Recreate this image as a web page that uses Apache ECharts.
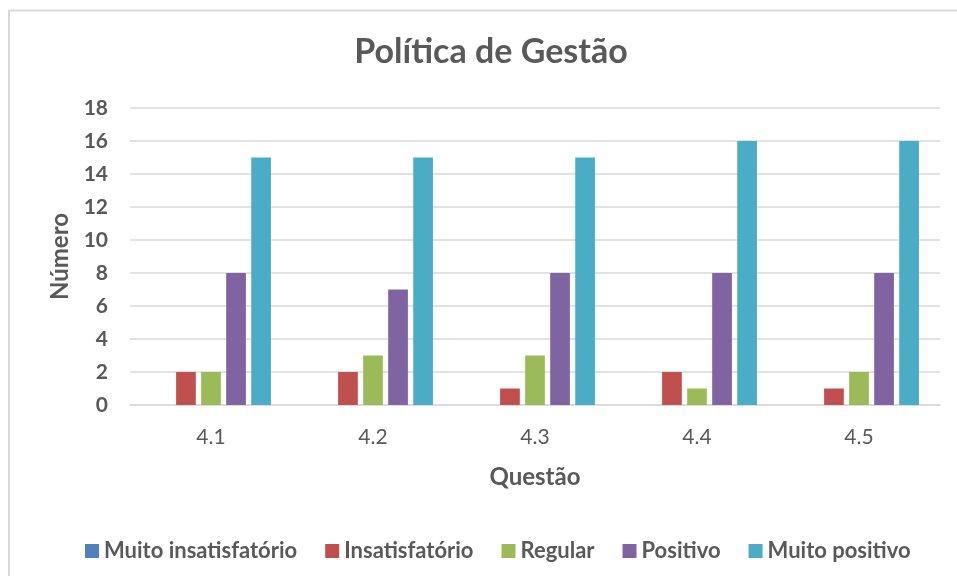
<!DOCTYPE html>
<html>
<head>
<meta charset="utf-8">
<script src="https://cdn.jsdelivr.net/npm/echarts@6/dist/echarts.min.js"></script>
<style>
html,body{margin:0;padding:0;background:#fff;}
#c{width:957px;height:576px;}
</style>
</head>
<body>
<div id="c"></div>
<script>
var categories = ['4.1', '4.2', '4.3', '4.4', '4.5'];
var seriesNames = ['Muito insatisfatório', 'Insatisfatório', 'Regular', 'Positivo', 'Muito positivo'];
var muitoInsatisfatorio = [0, 0, 0, 0, 0];
var insatisfatorio = [2, 2, 1, 2, 1];
var regular = [2, 3, 3, 1, 2];
var positivo = [8, 7, 8, 8, 8];
var muitoPositivo = [15, 15, 15, 16, 16];
var yTicks = [0, 2, 4, 6, 8, 10, 12, 14, 16, 18];

var colors = ['#4F81BD', '#C0504D', '#9BBB59', '#8064A2', '#4BACC6'];
var dataSets = [muitoInsatisfatorio, insatisfatorio, regular, positivo, muitoPositivo];
var textColor = '#595959';
var font = 'Lato, "Open Sans", sans-serif';

var chart = echarts.init(document.getElementById('c'));
chart.setOption({
  animation: false,
  color: colors,
  graphic: [{
    type: 'rect',
    shape: {x: 9, y: 10.5, width: 1200, height: 1200},
    style: {fill: 'none', stroke: '#D9D9D9', lineWidth: 2},
    silent: true
  }],
  title: {
    text: 'Política de Gestão',
    left: 486,
    textAlign: 'center',
    top: 30,
    textStyle: {fontFamily: font, fontSize: 34, fontWeight: 'bold', color: textColor}
  },
  legend: {
    data: seriesNames,
    left: 80,
    top: 535,
    itemWidth: 14,
    itemHeight: 14,
    itemGap: 28,
    icon: 'rect',
    textStyle: {fontFamily: font, fontSize: 22, fontWeight: 'bold', color: textColor, padding: [0, 0, 0, 0]}
  },
  grid: {left: 130, right: 17, top: 108, bottom: 171, containLabel: false},
  xAxis: {
    type: 'category',
    data: categories,
    name: 'Questão',
    nameLocation: 'middle',
    nameGap: 60,
    nameTextStyle: {fontFamily: font, fontSize: 24, fontWeight: 'bold', color: textColor},
    axisLine: {lineStyle: {color: '#D9D9D9', width: 1.5}},
    axisTick: {show: false},
    axisLabel: {fontFamily: font, fontSize: 21, color: textColor, margin: 22}
  },
  yAxis: {
    type: 'value',
    min: 0,
    max: 18,
    interval: 2,
    name: 'Número',
    nameLocation: 'middle',
    nameGap: 58,
    nameRotate: 90,
    nameTextStyle: {fontFamily: font, fontSize: 24, fontWeight: 'bold', color: textColor},
    axisLine: {show: false},
    axisTick: {show: false},
    splitLine: {lineStyle: {color: '#D9D9D9', width: 1.5}},
    axisLabel: {
      fontFamily: font, fontSize: 21, fontWeight: 'bold', color: textColor, margin: 22,
      formatter: function (v) { return yTicks.indexOf(v) >= 0 ? String(v) : ''; }
    }
  },
  series: seriesNames.map(function (n, i) {
    return {
      name: n,
      type: 'bar',
      data: dataSets[i],
      barGap: '27%',
      barCategoryGap: '26%',
      itemStyle: {color: colors[i]}
    };
  })
});
</script>
</body>
</html>
